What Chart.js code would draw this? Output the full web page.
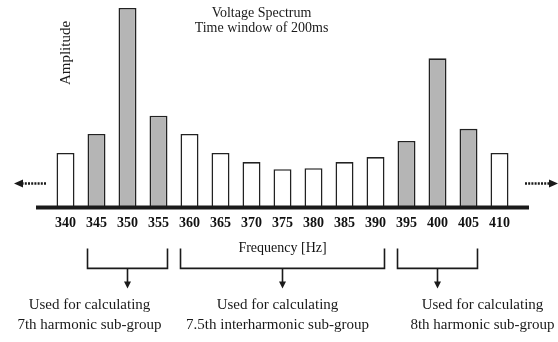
<!DOCTYPE html>
<html>
<head>
<meta charset="utf-8">
<script src="https://cdn.jsdelivr.net/npm/chart.js@4/dist/chart.umd.min.js"></script>
<style>
  html, body { margin: 0; padding: 0; background: #fff; }
  #wrap { width: 558px; height: 342px; }
</style>
</head>
<body>
<div id="wrap"><canvas id="chartSpectrum" width="558" height="342"></canvas></div>
<script>
// Spectrum bins (Hz) and amplitudes
const freqLabels = ["340", "345", "350", "355", "360", "365", "370", "375", "380", "385", "390", "395", "400", "405", "410"];
const amplitude = [54, 73, 198, 91, 73, 54, 45, 38, 39, 45, 50, 66, 148, 78, 54];

// bins that belong to a harmonic sub-group (drawn grey)
const harmonicBins = ["345", "350", "355", "395", "400", "405"];

// sub-groups: first bin, last bin, caption
const groupFirst = ["345", "360", "395"];
const groupLast = ["355", "390", "405"];
const groupText = [
  ["Used for calculating", "7th harmonic sub-group"],
  ["Used for calculating", "7.5th interharmonic sub-group"],
  ["Used for calculating", "8th harmonic sub-group"]
];

const titleLines = ["Voltage Spectrum", "Time window of 200ms"];

const SERIF = "'Liberation Serif', 'Times New Roman', serif";
const INK = "#1a1a1a";

function arrowHead(ctx, x, y, dir, len, half) {
  // dir: "left" | "right" | "down"
  ctx.beginPath();
  if (dir === "left") {
    ctx.moveTo(x, y); ctx.lineTo(x + len, y - half); ctx.lineTo(x + len, y + half);
  } else if (dir === "right") {
    ctx.moveTo(x, y); ctx.lineTo(x - len, y - half); ctx.lineTo(x - len, y + half);
  } else {
    ctx.moveTo(x, y); ctx.lineTo(x - half, y - len); ctx.lineTo(x + half, y - len);
  }
  ctx.closePath();
  ctx.fill();
}

const decorPlugin = {
  id: "decor",
  afterDatasetsDraw(chart) {
    const ctx = chart.ctx;
    const ca = chart.chartArea;
    const x = chart.scales.x;
    const meta = chart.getDatasetMeta(0);
    const barHalf = meta.data[0].width / 2;

    ctx.save();
    ctx.fillStyle = INK;
    ctx.strokeStyle = INK;

    // baseline, running a bit past the outer bins
    ctx.lineWidth = 4;
    ctx.beginPath();
    ctx.moveTo(ca.left - 14, ca.bottom);
    ctx.lineTo(ca.right + 14, ca.bottom);
    ctx.stroke();

    // dotted arrows on both sides
    const ay = ca.bottom - 24;
    ctx.lineWidth = 2.5;
    ctx.setLineDash([2, 1.2]);
    ctx.beginPath();
    ctx.moveTo(ca.left - 4, ay); ctx.lineTo(ca.left - 28, ay);
    ctx.moveTo(ca.right + 10, ay); ctx.lineTo(ca.right + 34, ay);
    ctx.stroke();
    ctx.setLineDash([]);
    arrowHead(ctx, ca.left - 36, ay, "left", 9, 4);
    arrowHead(ctx, ca.right + 43, ay, "right", 9, 4);

    // title
    ctx.textAlign = "center";
    ctx.textBaseline = "middle";
    ctx.font = "14px " + SERIF;
    const tx = x.getPixelForValue(freqLabels.indexOf("375")) - 21;
    ctx.fillText(titleLines[0], tx, 13);
    ctx.fillText(titleLines[1], tx, 28);

    // rotated y label above the first bin
    ctx.save();
    ctx.translate(x.getPixelForValue(0) + 1, 53);
    ctx.rotate(-Math.PI / 2);
    ctx.font = "15px " + SERIF;
    ctx.fillText("Amplitude", 0, 0);
    ctx.restore();

    // sub-group brackets, arrows and captions
    const textShift = [-38, -5, 45];
    const bTop = ca.bottom + 41, bBot = ca.bottom + 61;
    ctx.lineWidth = 1.6;
    ctx.font = "15px " + SERIF;
    groupFirst.forEach((f, i) => {
      const x0 = x.getPixelForValue(freqLabels.indexOf(f)) - barHalf;
      const x1 = x.getPixelForValue(freqLabels.indexOf(groupLast[i])) + barHalf;
      const xm = (x0 + x1) / 2;
      ctx.beginPath();
      ctx.moveTo(x0, bTop); ctx.lineTo(x0, bBot); ctx.lineTo(x1, bBot); ctx.lineTo(x1, bTop);
      ctx.moveTo(xm, bBot); ctx.lineTo(xm, bBot + 14);
      ctx.stroke();
      arrowHead(ctx, xm, bBot + 20, "down", 7, 3.5);
      ctx.fillText(groupText[i][0], xm + textShift[i], bBot + 37);
      ctx.fillText(groupText[i][1], xm + textShift[i], bBot + 57);
    });
    ctx.restore();
  }
};

new Chart(document.getElementById("chartSpectrum"), {
  type: "bar",
  data: {
    labels: freqLabels,
    datasets: [{
      label: "Amplitude",
      data: amplitude,
      backgroundColor: freqLabels.map(f => harmonicBins.includes(f) ? "#b5b5b5" : "#ffffff"),
      borderColor: "#222",
      borderWidth: 1.6,
      barPercentage: 0.58,
      categoryPercentage: 1
    }]
  },
  options: {
    responsive: false,
    animation: false,
    layout: { padding: { left: 50, right: 43, top: 6, bottom: 85 } },
    plugins: {
      legend: { display: false },
      tooltip: { enabled: false }
    },
    scales: {
      x: {
        grid: { display: false, drawTicks: false },
        border: { display: false },
        ticks: {
          color: "#111",
          padding: 8,
          font: { family: SERIF, size: 14, weight: "bold" }
        },
        title: {
          display: true,
          text: "Frequency [Hz]",
          color: "#111",
          padding: { top: 0, bottom: 0 },
          font: { family: SERIF, size: 14 }
        }
      },
      y: {
        display: false,
        min: 0,
        max: 200
      }
    }
  },
  plugins: [decorPlugin]
});
</script>
</body>
</html>
